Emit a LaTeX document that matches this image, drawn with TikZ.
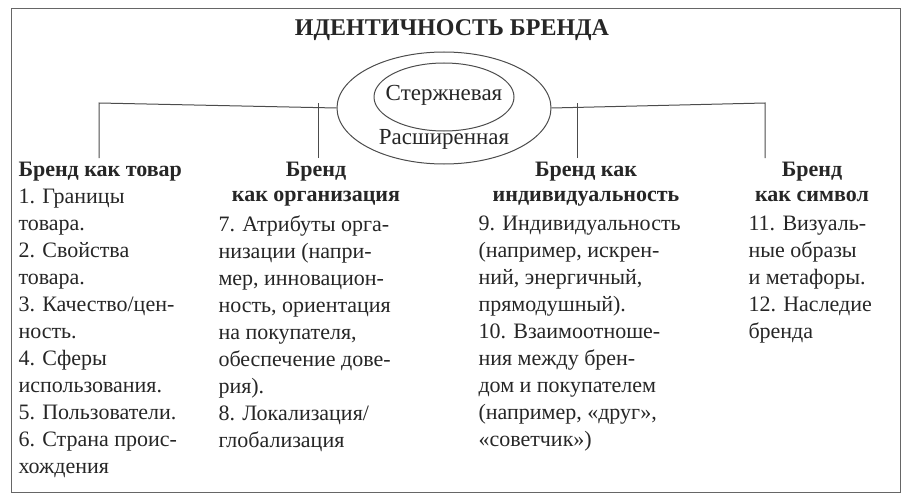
\documentclass[tikz,border=0pt]{standalone}
\usepackage{fontspec}
\setmainfont{Liberation Serif}
\usetikzlibrary{shapes.geometric}
\begin{document}
\begin{tikzpicture}[x=1pt,y=-1pt,line width=1pt,draw=black!75,
  txt/.style={inner sep=0pt,anchor=north west,align=left,font=\fontsize{22}{27}\selectfont,text=black!85},
  hd/.style={inner sep=0pt,anchor=north,align=center,font=\fontsize{22}{25}\selectfont\bfseries,text=black!85},
  link/.style={draw=black!70,line width=1pt}]
\useasboundingbox (0,0) rectangle (904,500);
\node[draw=black!60,line width=1.2pt,minimum width=889pt,minimum height=484pt,anchor=north west] (frame) at (11,8) {};
\node[inner sep=0pt,font=\fontsize{24}{26}\selectfont\bfseries,text=black!85] (title) at (452,30) {ИДЕНТИЧНОСТЬ БРЕНДА};
\node[draw=black!70,ellipse,minimum width=214pt,minimum height=112pt,inner sep=0pt] (outer) at (444,108) {};
\node[draw=black!70,ellipse,minimum width=140pt,minimum height=68pt,inner sep=0pt] (inner) at (444,97) {};
\node[inner sep=0pt,font=\fontsize{23}{25}\selectfont,text=black!85] (core) at (444,95) {Стержневая};
\node[inner sep=0pt,font=\fontsize{23}{25}\selectfont,text=black!85] (ext) at (444,139) {Расширенная};
\coordinate (L) at (99,103); \coordinate (R) at (765,103);
\coordinate (v1) at (99,158); \coordinate (v2) at (318,158);
\coordinate (v3) at (577,158); \coordinate (v4) at (765,158);
\coordinate (h2) at (318,103); \coordinate (h3) at (577,103);
\draw[link] (v1) -- (L) -- (outer.west);
\draw[link] (v2) -- (h2);
\draw[link] (outer.east) -- (R) -- (v4);
\draw[link] (v3) -- (h3);
% column 1
\node[inner sep=0pt,anchor=north west,font=\fontsize{22}{25}\selectfont\bfseries,text=black!85] (h1) at (18,162) {Бренд как товар};
\node[txt] (c1) at (18,188) {1. Границы\\товара.\\2. Свойства\\товара.\\3. Качество/цен-\\ность.\\4. Сферы\\использования.\\5. Пользователи.\\6. Страна проис-\\хождения};
% column 2
\node[hd] (hb2) at (316,162) {Бренд\\как организация};
\node[txt] (c2) at (218,215) {7. Атрибуты орга-\\низации (напри-\\мер, инновацион-\\ность, ориентация\\на покупателя,\\обеспечение дове-\\рия).\\8. Локализация/\\глобализация};
% column 3
\node[hd] (hb3) at (586,162) {Бренд как\\индивидуальность};
\node[txt] (c3) at (478,215) {9. Индивидуальность\\(например, искрен-\\ний, энергичный,\\прямодушный).\\10. Взаимоотноше-\\ния между брен-\\дом и покупателем\\(например, «друг»,\\«советчик»)};
% column 4
\node[hd] (hb4) at (812,162) {Бренд\\как символ};
\node[txt] (c4) at (748,215) {11. Визуаль-\\ные образы\\и метафоры.\\12. Наследие\\бренда};
\end{tikzpicture}
\end{document}
